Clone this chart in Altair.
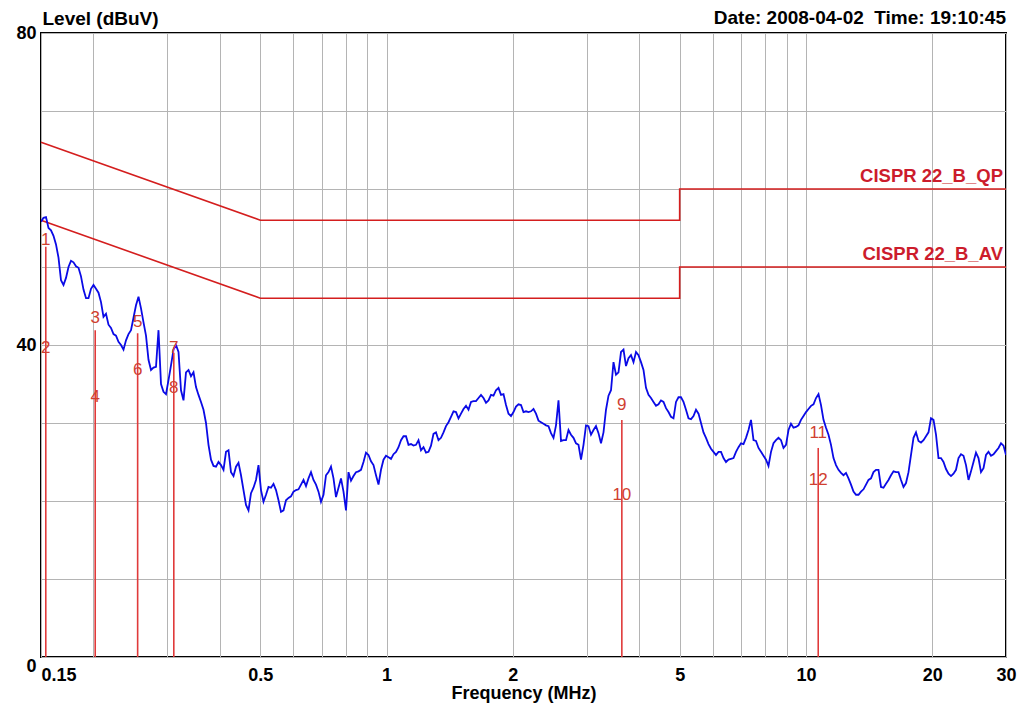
import altair as alt
import numpy as np
import pandas as pd

FONT = "Liberation Sans"

# ---- measured trace (dBuV), read from the picture on an even log-frequency sweep grid ----
# levels_a: readings at the sweep points 0, 2, 4, ... ; levels_b: readings at the points in between
levels_a = [
    55.8, 56.4, 54.7, 52.9, 48.3, 48.6, 50.8, 50.1, 48.8, 46.0,
    47.2, 47.2, 45.5, 44.0, 42.2, 41.2, 40.0, 40.6, 41.9, 45.1,
    44.7, 41.2, 36.8, 37.2, 35.0, 33.7, 37.4, 40.0, 34.2, 36.5,
    36.0, 34.6, 32.7, 30.0, 25.3, 24.4, 24.6, 26.3, 23.7, 24.4,
    23.3, 19.5, 21.0, 22.7, 21.4, 20.8, 21.7, 21.4, 18.6, 20.1,
    20.6, 21.4, 22.1, 21.9, 23.7, 22.1, 19.9, 23.3, 24.4, 20.5,
    22.9, 18.8, 22.6, 23.7, 24.0, 26.2, 25.1, 23.3, 24.0, 25.8,
    25.4, 26.3, 27.8, 28.3, 27.3, 27.2, 26.5, 26.2, 27.1, 28.8,
    28.1, 29.6, 30.8, 31.4, 31.2, 32.2, 32.7, 32.8, 33.6, 32.6,
    33.6, 34.2, 33.6, 32.3, 30.9, 32.1, 32.3, 31.5, 31.5, 31.2,
    30.1, 29.7, 28.7, 29.7, 27.7, 27.8, 28.5, 27.4, 25.3, 29.7,
    28.5, 29.6, 27.4, 31.7, 34.2, 36.2, 39.1, 37.3, 38.7, 39.1,
    37.8, 34.5, 33.2, 32.2, 32.9, 31.9, 30.8, 32.7, 33.3, 31.7,
    30.5, 31.7, 30.0, 28.1, 26.7, 25.9, 26.3, 25.0, 25.4, 26.3,
    27.4, 28.1, 30.4, 27.7, 26.3, 25.3, 26.3, 27.8, 27.8, 27.2,
    29.9, 29.5, 30.4, 31.4, 32.2, 33.2, 32.3, 29.4, 27.2, 24.6,
    23.6, 23.6, 22.1, 20.8, 21.2, 22.1, 22.9, 24.0, 21.8, 22.2,
    23.3, 23.7, 22.7, 22.3, 25.9, 28.8, 27.5, 28.3, 30.6, 28.5,
    25.5, 24.1, 23.2, 24.0, 26.0, 24.6, 23.8, 26.2, 23.7, 25.9,
    25.8, 26.4, 27.4, 25.9,
]
levels_b = [
    56.3, 55.0, 54.0, 51.2, 47.7, 50.0, 50.6, 49.9, 47.1, 46.0,
    47.7, 46.7, 43.6, 42.6, 41.4, 40.4, 39.4, 41.4, 43.5, 46.2,
    42.9, 38.1, 37.1, 41.9, 34.0, 35.5, 39.4, 39.1, 32.9, 36.8,
    36.5, 33.6, 31.7, 27.2, 24.5, 25.0, 24.0, 26.5, 23.2, 24.9,
    21.4, 18.8, 21.7, 24.6, 19.9, 21.8, 22.2, 20.1, 18.8, 20.4,
    21.2, 21.5, 22.7, 22.9, 22.7, 21.2, 20.8, 23.7, 22.9, 21.7,
    21.2, 23.7, 23.2, 23.8, 25.0, 25.9, 24.6, 22.1, 25.3, 25.6,
    26.0, 26.9, 28.3, 27.2, 27.1, 27.8, 26.9, 26.3, 28.6, 27.8,
    28.8, 30.1, 31.5, 30.6, 31.8, 31.7, 32.8, 33.2, 33.2, 32.9,
    33.5, 34.5, 33.7, 31.2, 31.4, 32.4, 31.4, 31.4, 31.8, 30.3,
    29.9, 29.6, 28.1, 32.9, 27.8, 29.1, 28.1, 27.2, 27.2, 29.6,
    29.1, 28.7, 28.8, 33.5, 37.8, 36.5, 39.4, 38.3, 37.8, 38.7,
    36.8, 33.6, 32.7, 32.4, 32.7, 31.4, 30.6, 33.3, 32.7, 30.6,
    30.9, 31.2, 28.8, 27.3, 26.3, 26.3, 25.5, 25.3, 25.5, 26.9,
    27.3, 29.1, 27.8, 26.8, 25.8, 24.5, 27.4, 28.1, 26.8, 29.1,
    29.4, 29.7, 30.9, 31.8, 32.4, 33.7, 30.4, 28.5, 25.5, 24.0,
    23.3, 22.9, 21.2, 20.8, 21.5, 22.7, 23.7, 24.0, 21.7, 22.7,
    23.8, 23.7, 21.8, 23.7, 28.1, 27.7, 27.8, 28.8, 30.4, 25.5,
    25.0, 23.5, 23.5, 25.5, 25.8, 22.7, 25.0, 25.5, 24.2, 26.3,
    26.0, 26.8, 27.1,
]
levels = []
for i, a in enumerate(levels_a):
    levels.append(a)
    if i < len(levels_b):
        levels.append(levels_b[i])

sweep_start_mhz = 0.15
sweep_stop_mhz = 30.0
sweep_freq = np.geomspace(sweep_start_mhz, sweep_stop_mhz, len(levels))

# ---- limit lines ----
qp_freq = [0.15, 0.5, 5, 5, 30]
qp_level = [66, 56, 56, 60, 60]
av_freq = [0.15, 0.5, 5, 5, 30]
av_level = [56, 46, 46, 50, 50]
limit_names = ["CISPR 22_B_QP", "CISPR 22_B_AV"]
limit_label_freq = [30, 30]
limit_label_level = [60, 50]

# ---- markers ----
marker_freq = [0.154, 0.202, 0.255, 0.311, 3.64, 10.7]
marker_top = [52.6, 41.9, 41.5, 39.0, 30.4, 26.8]
label_text = ["1", "2", "3", "4", "5", "6", "7", "8", "9", "10", "11", "12"]
label_freq = [0.154, 0.154, 0.202, 0.202, 0.255, 0.255, 0.311, 0.311, 3.64, 3.64, 10.7, 10.7]
label_level = [53.5, 39.6, 43.5, 33.3, 42.9, 36.8, 39.6, 34.5, 32.3, 20.8, 28.7, 22.7]

# ---- axes ----
x_grid = [0.15, 0.2, 0.3, 0.4, 0.5, 0.6, 0.7, 0.8, 0.9, 1, 2, 3, 4, 5, 6, 7, 8, 9, 10, 20, 30]
x_labels = [0.15, 0.5, 1, 2, 5, 10, 20, 30]
y_grid = [0, 10, 20, 30, 40, 50, 60, 70, 80]
y_labels = [0, 40, 80]
x_title = "Frequency (MHz)"
y_title = "Level (dBuV)"
date_text = "Date: 2008-04-02\u00a0\u00a0Time: 19:10:45"

W, H = 965, 624

trace = pd.DataFrame({"f": sweep_freq, "level": levels})
limits = pd.DataFrame({
    "f": qp_freq + av_freq,
    "level": qp_level + av_level,
    "limit": [limit_names[0]] * len(qp_freq) + [limit_names[1]] * len(av_freq),
    "idx": list(range(len(qp_freq))) + list(range(len(av_freq))),
})
limit_labels = pd.DataFrame({"f": limit_label_freq, "level": limit_label_level, "name": limit_names})
markers = pd.DataFrame({"f": marker_freq, "base": [0] * len(marker_freq), "level": marker_top})
mlabels = pd.DataFrame({"f": label_freq, "level": label_level, "t": label_text})

x_scale = alt.Scale(type="log", domain=[0.15, 30], nice=False)
y_scale = alt.Scale(domain=[0, 80], nice=False)

x_label_list = ",".join(str(v) for v in x_labels)
y_label_list = ",".join(str(v) for v in y_labels)

x_axis = alt.Axis(
    values=x_grid, format="~g",
    labelExpr=f"indexof([{x_label_list}], datum.value) >= 0 ? datum.label : ''",
    labelOverlap=False, grid=True, gridColor="#b4b4b4", gridWidth=1,
    ticks=False, domain=False, labelFont=FONT, labelFontSize=18, labelFontWeight="bold",
    labelColor="black", labelPadding=9,
    labelAlign={"condition": {"test": "datum.value <= 0.15", "value": "left"}, "value": "center"},
    title=x_title, titleFont=FONT, titleFontSize=18, titleFontWeight="bold", titleColor="black",
    titlePadding=0,
)
y_axis = alt.Axis(
    values=y_grid,
    labelExpr=f"indexof([{y_label_list}], datum.value) >= 0 ? datum.label : ''",
    labelOverlap=False, grid=True, gridColor="#b4b4b4", gridWidth=1,
    ticks=False, domain=False, labelFont=FONT, labelFontSize=18, labelFontWeight="bold",
    labelColor="black", labelPadding=5,
    labelBaseline={"condition": {"test": "datum.value == 0", "value": "top"}, "value": "middle"},
    title=y_title, titleFont=FONT, titleFontSize=19, titleFontWeight="bold", titleColor="black",
    titleAngle=0, titleAlign="left", titleBaseline="middle", titleX=1, titleY=-15,
)

X = alt.X("f:Q", scale=x_scale, axis=x_axis)
Y = alt.Y("level:Q", scale=y_scale, axis=y_axis)

trace_layer = alt.Chart(trace).mark_line(color="#0a0ae6", strokeWidth=1.8, clip=True).encode(x=X, y=Y)

limit_layer = alt.Chart(limits).mark_line(color="#d41e1e", strokeWidth=1.6).encode(
    x=X, y=Y, detail="limit:N", order="idx:Q",
)

limit_text = alt.Chart(limit_labels).mark_text(
    align="right", baseline="bottom", dx=-3, dy=-3, color="#cc1c2c",
    font=FONT, fontSize=18.5, fontWeight="bold",
).encode(x=X, y=Y, text="name:N")

marker_layer = alt.Chart(markers).mark_rule(color="#e03a3a", strokeWidth=1.6).encode(
    x=X, y=Y, y2="base:Q",
)

marker_text = alt.Chart(mlabels).mark_text(
    align="center", baseline="middle", color="#d04030", font=FONT, fontSize=17,
).encode(x=X, y=Y, text="t:N")

date_layer = alt.Chart(pd.DataFrame({"t": [date_text]})).mark_text(
    align="right", baseline="middle", font=FONT, fontSize=19, fontWeight="bold", color="black",
).encode(x=alt.value(W), y=alt.value(-15), text="t:N")

chart = alt.layer(
    limit_layer, trace_layer, marker_layer, marker_text, limit_text, date_layer
).properties(
    width=W, height=H, background="white",
    padding={"left": 33, "top": 25, "right": 13, "bottom": 48},
    autosize=alt.AutoSizeParams(type="none"),
).configure_view(stroke="black", strokeWidth=2)

chart.save("out.html", embed_options={"renderer": "svg", "actions": False})
